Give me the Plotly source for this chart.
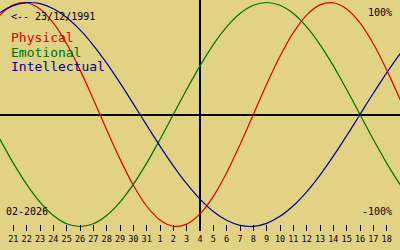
import plotly.graph_objects as go

# Day offsets relative to today (04-02-2026)
days = list(range(-16, 17))

physical = [0.7308, 0.8879, 0.9791, 0.9977, 0.9423, 0.8170, 0.6311, 0.3984, 0.1362,
            -0.1362, -0.3984, -0.6311, -0.8170, -0.9423, -0.9977, -0.9791, -0.8879,
            -0.7308, -0.5196, -0.2698, 0.0, 0.2698, 0.5196, 0.7308, 0.8879, 0.9791,
            0.9977, 0.9423, 0.8170, 0.6311, 0.3984, 0.1362, -0.1362]
emotional = [0.0, -0.2225, -0.4339, -0.6235, -0.7818, -0.9010, -0.9749, -1.0, -0.9749,
             -0.9010, -0.7818, -0.6235, -0.4339, -0.2225, 0.0, 0.2225, 0.4339, 0.6235,
             0.7818, 0.9010, 0.9749, 1.0, 0.9749, 0.9010, 0.7818, 0.6235, 0.4339,
             0.2225, 0.0, -0.2225, -0.4339, -0.6235, -0.7818]
intellectual = [0.8146, 0.9096, 0.9718, 0.9989, 0.9898, 0.9450, 0.8660, 0.7557, 0.6182,
                0.4582, 0.2817, 0.0951, -0.0951, -0.2817, -0.4582, -0.6182, -0.7557,
                -0.8660, -0.9450, -0.9898, -0.9989, -0.9718, -0.9096, -0.8146, -0.6901,
                -0.5406, -0.3717, -0.1893, 0.0, 0.1893, 0.3717, 0.5406, 0.6901]

tick_days = list(range(-14, 15))
tick_labels = ["21", "22", "23", "24", "25", "26", "27", "28", "29", "30", "31",
               "1", "2", "3", "4", "5", "6", "7", "8", "9", "10", "11", "12", "13",
               "14", "15", "16", "17", "18"]

series_names = ["Physical", "Emotional", "Intellectual"]
series_colors = ["#E00000", "#007000", "#000090"]
birth_label = "<-- 23/12/1991"
month_label = "02-2026"
top_label = "100%"
bottom_label = "-100%"

BG = "#E1D284"
W, H = 400, 250
PLOT_BOTTOM = 231  # pixel row of plot-area bottom

fig = go.Figure()
for name, vals, col in zip(series_names, [physical, emotional, intellectual], series_colors):
    fig.add_trace(go.Scatter(x=days, y=vals, mode="lines", name=name,
                             line=dict(color=col, width=1.2, shape="spline"),
                             hoverinfo="skip"))


def py(p):
    return (PLOT_BOTTOM - p) / PLOT_BOTTOM


def px(p):
    return p / W


MONO = "DejaVu Sans Mono"
ann = []
ann.append(dict(text=birth_label, x=px(9), y=py(16.5), xanchor="left", yanchor="middle",
                font=dict(family=MONO, size=10, color="black")))
for i, (name, col) in enumerate(zip(series_names, series_colors)):
    ann.append(dict(text=name, x=px(9), y=py(38 + 14 * i), xanchor="left", yanchor="middle",
                    font=dict(family=MONO, size=13, color=col)))
ann.append(dict(text=top_label, x=px(394), y=py(12), xanchor="right", yanchor="middle",
                font=dict(family=MONO, size=10, color="black")))
ann.append(dict(text=bottom_label, x=px(394), y=py(211.5), xanchor="right", yanchor="middle",
                font=dict(family=MONO, size=10, color="black")))
ann.append(dict(text=month_label, x=px(4), y=py(211.5), xanchor="left", yanchor="middle",
                font=dict(family=MONO, size=10, color="black")))
for a in ann:
    a.update(xref="paper", yref="paper", showarrow=False)

fig.update_layout(
    width=W, height=H,
    margin=dict(l=0, r=0, t=0, b=H - PLOT_BOTTOM, pad=0),
    paper_bgcolor=BG, plot_bgcolor=BG,
    showlegend=False,
    annotations=ann,
    xaxis=dict(range=[-15, 15], tickvals=tick_days, ticktext=tick_labels,
               ticks="inside", ticklen=6, tickwidth=1, tickcolor="black",
               showgrid=False, showline=False,
               zeroline=True, zerolinecolor="black", zerolinewidth=2,
               tickfont=dict(family=MONO, size=8.5, color="black"),
               ticklabelstandoff=1, fixedrange=True),
    yaxis=dict(range=[-1.0402, 1.0223], showticklabels=False, ticks="",
               showgrid=False, showline=False,
               zeroline=True, zerolinecolor="black", zerolinewidth=2,
               fixedrange=True),
)

fig.write_html("out.html", config={"displayModeBar": False, "staticPlot": True})
